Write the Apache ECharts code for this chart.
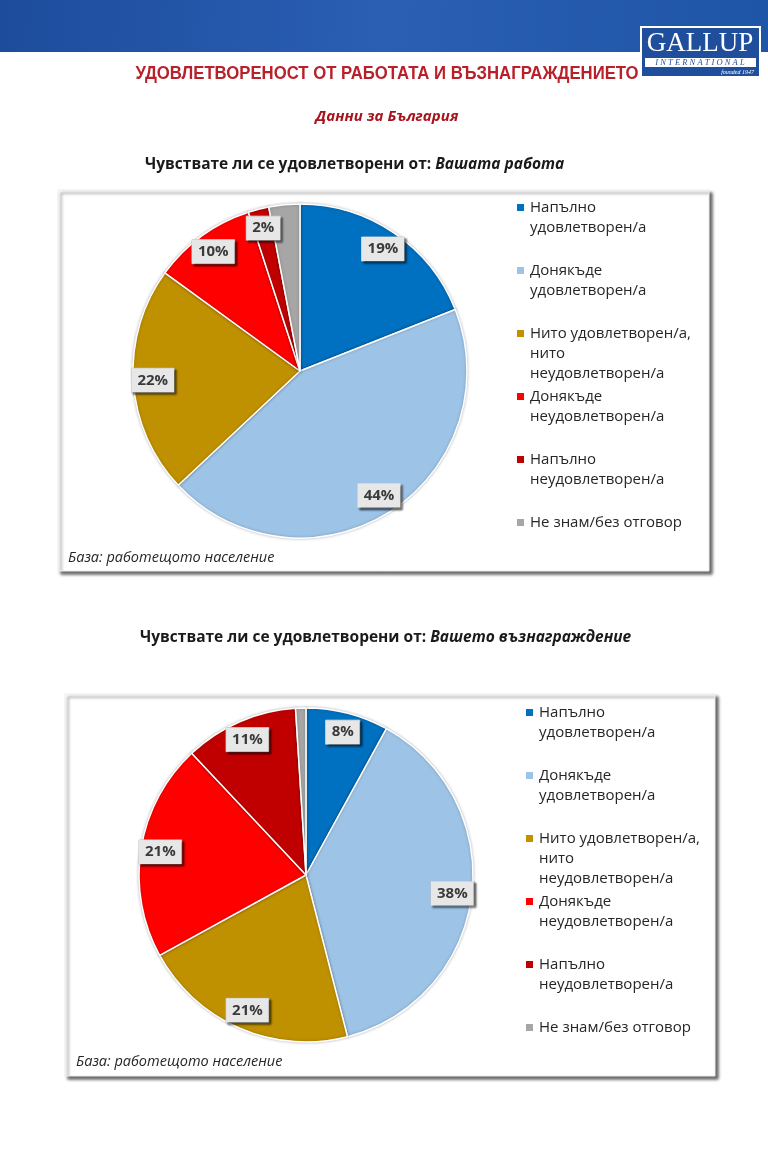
<!DOCTYPE html>
<html>
<head>
<meta charset="utf-8">
<script src="https://cdn.jsdelivr.net/npm/echarts@6/dist/echarts.min.js"></script>
<style>
  html, body { margin: 0; padding: 0; background: #ffffff; }
  #chart { width: 768px; height: 1162px; }
</style>
</head>
<body>
<div id="chart"></div>
<script>
// ---------- data ----------
const CATEGORIES = [
  'Напълно удовлетворен/а',
  'Донякъде удовлетворен/а',
  'Нито удовлетворен/а, нито неудовлетворен/а',
  'Донякъде неудовлетворен/а',
  'Напълно неудовлетворен/а',
  'Не знам/без отговор'
];
const LEGEND_LINES = [
  ['Напълно', 'удовлетворен/а'],
  ['Донякъде', 'удовлетворен/а'],
  ['Нито удовлетворен/а,', 'нито', 'неудовлетворен/а'],
  ['Донякъде', 'неудовлетворен/а'],
  ['Напълно', 'неудовлетворен/а'],
  ['Не знам/без отговор']
];
const WORK_VALUES = [19, 44, 22, 10, 2, 3];
const PAY_VALUES = [8, 38, 21, 21, 11, 1];
const COLORS = ['#0070c0', '#9dc3e6', '#bf9000', '#ff0000', '#c00000', '#a6a6a6'];

const MAIN_TITLE = 'УДОВЛЕТВОРЕНОСТ ОТ РАБОТАТА И ВЪЗНАГРАЖДЕНИЕТО';
const SUBTITLE = 'Данни за България';
const Q_PREFIX = 'Чувствате ли се удовлетворени от: ';
const Q1_SUBJECT = 'Вашата работа';
const Q2_SUBJECT = 'Вашето възнаграждение';
const BASE_NOTE = 'База: работещото население';

// ---------- helpers ----------
const FONT = '"Open Sans", "Noto Sans", sans-serif';
const legendRich = { t: { fontSize: 15, lineHeight: 20, color: '#262626', fontFamily: FONT }, g: { width: 6 }, g2: { width: 13 } };
COLORS.forEach((c, i) => { legendRich['m' + i] = { width: 7, height: 7, backgroundColor: c }; });

function legendFormatter(name) {
  const i = CATEGORIES.indexOf(name);
  const lines = LEGEND_LINES[i];
  const out = ['{m' + i + '|}{g|}{t|' + lines[0] + '}'];
  for (let k = 1; k < lines.length; k++) out.push('{g2|}{t|' + lines[k] + '}');
  if (i < CATEGORIES.length - 1) { while (out.length < 3) out.push('{t| }'); }
  return out.join('\n');
}

function makeLegend(top, left) {
  return {
    orient: 'vertical', left: left, top: top, icon: 'none',
    itemWidth: 0, itemHeight: 7, itemGap: 8, padding: 0,
    selectedMode: false,
    data: CATEGORIES,
    formatter: legendFormatter,
    textStyle: { rich: legendRich }
  };
}

function pieData(values) {
  return values.map((v, i) => ({ name: CATEGORIES[i], value: v, itemStyle: { color: COLORS[i] } }));
}
function labelData(values) {
  return values.map((v, i) => ({
    name: CATEGORIES[i], value: v,
    label: { show: i !== CATEGORIES.length - 1 }
  }));
}

const labelStyle = {
  show: true, position: 'inside', formatter: '{c}%',
  fontFamily: FONT, fontSize: 15, fontWeight: 'bold', color: '#3a3a3a',
  backgroundColor: '#e7e7e7', borderColor: '#c8c8c8', borderWidth: 0.5,
  padding: [5, 6, 4, 6],
  shadowColor: 'rgba(0,0,0,0.55)', shadowBlur: 2, shadowOffsetX: 2, shadowOffsetY: 2
};

function pieSeries(values, center, radius) {
  return [
    {
      type: 'pie', center: center, radius: [0, radius], startAngle: 90, clockwise: true,
      data: pieData(values), label: { show: false }, labelLine: { show: false },
      itemStyle: { borderColor: '#ffffff', borderWidth: 1.5, shadowColor: 'rgba(0,0,0,0.25)', shadowBlur: 3 },
      emphasis: { disabled: true }, silent: true
    },
    {
      type: 'pie', center: center, radius: [radius - 45, radius], startAngle: 90, clockwise: true,
      data: labelData(values), itemStyle: { color: 'rgba(0,0,0,0)', borderWidth: 0 },
      label: labelStyle, labelLine: { show: false },
      emphasis: { disabled: true }, silent: true, z: 5
    }
  ];
}

function chartBox(x, y, w, h) {
  return {
    type: 'rect', z: 0, shape: { x: x, y: y, width: w, height: h },
    style: { fill: '#ffffff', stroke: '#ececec', lineWidth: 1,
      shadowColor: 'rgba(0,0,0,0.6)', shadowBlur: 3, shadowOffsetX: 3, shadowOffsetY: 3 }
  };
}

const chart = echarts.init(document.getElementById('chart'), null, { renderer: 'canvas' });

const qRich = {
  b: { fontFamily: FONT, fontSize: 15.5, fontWeight: 'bold', color: '#1a1a1a' },
  bi: { fontFamily: FONT, fontSize: 15.5, fontWeight: 'bold', fontStyle: 'italic', color: '#1a1a1a' }
};

const option = {
  animation: false,
  backgroundColor: '#ffffff',
  title: [
    { text: SUBTITLE, left: 387, top: 109, textAlign: 'center', padding: 0,
      textStyle: { fontFamily: FONT, fontSize: 15, fontStyle: 'italic', fontWeight: 'bold', color: '#a8141e' } },
    { text: '{b|' + Q_PREFIX + '}{bi|' + Q1_SUBJECT + '}', left: 145, top: 157, padding: 0,
      textStyle: { rich: qRich } },
    { text: '{b|' + Q_PREFIX + '}{bi|' + Q2_SUBJECT + '}', left: 140, top: 630, padding: 0,
      textStyle: { rich: qRich } },
    { text: BASE_NOTE, left: 68, top: 550, padding: 0,
      textStyle: { fontFamily: FONT, fontSize: 14.5, fontStyle: 'italic', fontWeight: 'normal', color: '#262626' } },
    { text: BASE_NOTE, left: 76, top: 1054, padding: 0,
      textStyle: { fontFamily: FONT, fontSize: 14.5, fontStyle: 'italic', fontWeight: 'normal', color: '#262626' } }
  ],
  legend: [makeLegend(200, 512), makeLegend(705, 521)],
  graphic: [
    { type: 'rect', z: 0, shape: { x: 0, y: 0, width: 768, height: 52 },
      style: { fill: new echarts.graphic.LinearGradient(0, 0, 1, 1, [
        { offset: 0, color: '#1d4c9c' }, { offset: 0.5, color: '#2a5fb4' }, { offset: 1, color: '#1f55a6' }]) } },
    { type: 'rect', z: 1, shape: { x: 641, y: 27, width: 119, height: 50 },
      style: { fill: '#1f4f9c', stroke: '#ffffff', lineWidth: 2 } },
    { type: 'text', z: 2, x: 700, y: 44,
      style: { text: 'GALLUP', fill: '#ffffff', font: '27px "Liberation Serif", serif', align: 'center', verticalAlign: 'middle' } },
    { type: 'rect', z: 2, shape: { x: 645, y: 58, width: 111, height: 9 }, style: { fill: '#ffffff' } },
    { type: 'text', z: 3, x: 700, y: 62.5,
      style: { text: 'I N T E R N A T I O N A L', fill: '#1f4f9c', font: 'italic 8.5px "Liberation Serif", serif', align: 'center', verticalAlign: 'middle' } },
    { type: 'text', z: 3, x: 754, y: 72,
      style: { text: 'founded 1947', fill: '#ffffff', font: 'italic 6px "Liberation Serif", serif', align: 'right', verticalAlign: 'middle' } },
    { type: 'text', z: 3, x: 387, y: 74, scaleX: 0.88,
      style: { text: MAIN_TITLE, fill: '#b8202a', font: 'bold 19px "Liberation Sans", sans-serif', align: 'center', verticalAlign: 'middle' } },
    chartBox(58, 190, 651, 381),
    chartBox(65, 694, 650, 382)
  ],
  series: [].concat(
    pieSeries(WORK_VALUES, [300, 371], 167),
    pieSeries(PAY_VALUES, [306, 875], 167)
  )
};
chart.setOption(option);
</script>
</body>
</html>
